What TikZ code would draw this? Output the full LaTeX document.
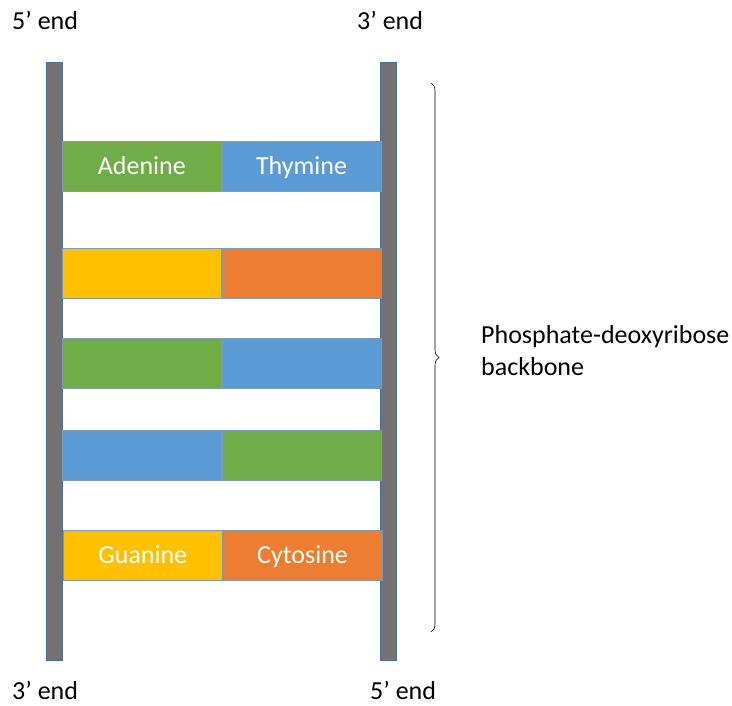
\documentclass[tikz,border=0pt]{standalone}
\usepackage{fontspec}
\setmainfont{Carlito}
\usetikzlibrary{positioning, decorations.pathreplacing}
\definecolor{adgreen}{RGB}{112, 173, 71}
\definecolor{thblue}{RGB}{91, 155, 213}
\definecolor{guyellow}{RGB}{255, 192, 0}
\definecolor{cyorange}{RGB}{237, 125, 49}
\definecolor{strandgray}{RGB}{118, 113, 113}
\definecolor{edgeblue}{RGB}{65, 113, 156}

\begin{document}
\begin{tikzpicture}[
    x=1pt, y=-1pt,
    strand/.style={rectangle, draw=edgeblue, fill=strandgray, line width=1pt, minimum width=16pt, minimum height=598pt, inner sep=0pt},
    base/.style={rectangle, draw=edgeblue!70, line width=0.7pt, minimum width=159pt, minimum height=50pt, inner sep=0pt, text=white, text height=16pt, text depth=0pt, font=\fontsize{26}{32}\selectfont},
    lbl/.style={font=\fontsize{26}{32}\selectfont, inner sep=0pt}
]
    \useasboundingbox (0,0) rectangle (732,706);

    % Strands
    \node[strand, anchor=north west] (left) at (46,62) {};
    \node[strand, anchor=north west] (right) at (380,62) {};

    % Base pairs
    \node[base, fill=adgreen, anchor=north west] (ad) at (62,141) {Adenine};
    \node[base, fill=thblue, right=0pt of ad] (th) {Thymine};
    \node[base, fill=guyellow, anchor=north west] (gu1) at (62,248) {};
    \node[base, fill=cyorange, right=0pt of gu1] (cy1) {};
    \node[base, fill=adgreen, anchor=north west] (ad2) at (62,338) {};
    \node[base, fill=thblue, right=0pt of ad2] (th2) {};
    \node[base, fill=thblue, anchor=north west] (th3) at (62,430) {};
    \node[base, fill=adgreen, right=0pt of th3] (ad3) {};
    \node[base, fill=guyellow, anchor=north west] (gu) at (63,530) {Guanine};
    \node[base, fill=cyorange, right=0pt of gu] (cy) {Cytosine};

    % Ends
    \node[lbl, anchor=west] (top5) at (12,20) {5’ end};
    \node[lbl, anchor=west] (top3) at (357,20) {3’ end};
    \node[lbl, anchor=west] (bot3) at (12,690) {3’ end};
    \node[lbl, anchor=west] (bot5) at (370,690) {5’ end};

    % Backbone brace
    \coordinate (bracetop) at (431,83);
    \coordinate (bracebot) at (431,632);
    \draw[decorate, decoration={brace, amplitude=8pt}, line width=0.6pt] (bracetop) -- (bracebot);
    \node[lbl, anchor=west, align=left] (backbone) at (481,351) {Phosphate-deoxyribose\\backbone};
\end{tikzpicture}
\end{document}
